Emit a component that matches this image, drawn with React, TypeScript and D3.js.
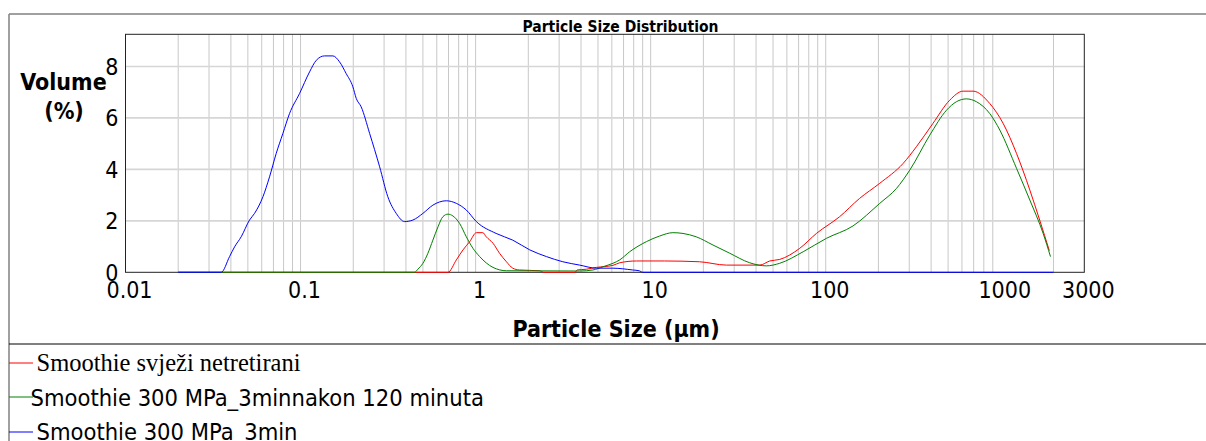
import React from "react";
import * as d3 from "d3";

const W = 1206;
const H = 441;

const chartTitle = "Particle Size Distribution";
const xTitle = "Particle Size (µm)";
const yTitleLines = ["Volume", "(%)"];
const xTickValues = [0.01, 0.1, 1, 10, 100, 1000, 3000];
const xTickLabels = ["0.01", "0.1", "1", "10", "100", "1000", "3000"];
const yTickValues = [0, 2, 4, 6, 8];

const seriesNames = [
  "Smoothie svježi netretirani",
  "Smoothie 300 MPa_3minnakon 120 minuta",
  "Smoothie 300 MPa_3min",
];
const seriesColors = ["#ff0000", "#008000", "#0000ff"];

// red: Smoothie svježi netretirani
const redSize = [0.02, 0.695, 0.776, 0.847, 0.925, 1.01, 1.1, 1.15, 1.257, 1.37, 1.5, 1.63, 1.78, 2.32, 2.45, 3.7, 3.8, 4.29, 4.9, 6.09, 6.66, 8.28, 12, 19, 27.1, 42, 47.9, 54.6, 71, 88.5, 120, 156, 203.6, 276.7, 329.7, 410, 511, 609, 695, 865, 1031, 1230, 1465, 1668, 1894];
const redVal = [0, 0, 0.48, 0.87, 1.19, 1.54, 1.54, 1.38, 1.13, 0.74, 0.41, 0.16, 0.09, 0.06, 0, 0, 0.09, 0.12, 0.19, 0.27, 0.37, 0.44, 0.44, 0.41, 0.28, 0.28, 0.44, 0.5, 0.93, 1.51, 2.16, 2.87, 3.46, 4.23, 4.88, 5.79, 6.69, 7.04, 7.04, 6.56, 5.79, 4.62, 3.2, 2.03, 0.84];

// green: Smoothie 300 MPa_3minnakon 120 minuta
const greenSize = [0.02, 0.448, 0.468, 0.5, 0.534, 0.57, 0.61, 0.65, 0.695, 0.742, 0.81, 0.885, 0.966, 1.055, 1.257, 1.5, 3.93, 4.68, 5.36, 6.09, 6.65, 7.59, 9.45, 11.25, 13.4, 15.3, 18.2, 22.7, 28.3, 36.8, 45.8, 54.6, 74.4, 100.9, 143, 203.6, 253.6, 302, 392.9, 489.8, 558, 636.8, 726, 865, 987, 1230, 1465, 1746, 1923];
const greenVal = [0, 0, 0.12, 0.35, 0.74, 1.25, 1.77, 2.16, 2.26, 2.19, 1.9, 1.38, 0.93, 0.61, 0.19, 0.06, 0.05, 0.09, 0.22, 0.35, 0.48, 0.8, 1.19, 1.41, 1.54, 1.51, 1.38, 1.06, 0.74, 0.37, 0.25, 0.35, 0.8, 1.32, 1.8, 2.68, 3.26, 3.97, 5.33, 6.3, 6.63, 6.74, 6.63, 6.17, 5.53, 4.04, 2.81, 1.51, 0.61];

// blue: Smoothie 300 MPa_3min
const blueSize = [0.02, 0.0352, 0.0393, 0.042, 0.0458, 0.0511, 0.0546, 0.061, 0.0665, 0.0726, 0.0793, 0.0865, 0.0987, 0.1126, 0.123, 0.137, 0.153, 0.167, 0.182, 0.199, 0.208, 0.222, 0.248, 0.283, 0.315, 0.352, 0.393, 0.438, 0.5, 0.57, 0.68, 0.776, 0.885, 1.01, 1.31, 1.63, 2.04, 2.54, 3.15, 3.93, 4.9, 6.09, 7.9, 8.6, 9.0, 2000];
const blueVal = [0, 0, 0.61, 0.99, 1.38, 2.03, 2.29, 2.94, 3.71, 4.62, 5.4, 6.17, 6.95, 7.79, 8.24, 8.41, 8.41, 8.18, 7.73, 7.21, 6.76, 6.43, 5.4, 4.1, 2.94, 2.29, 1.97, 2.03, 2.29, 2.61, 2.78, 2.68, 2.42, 1.97, 1.51, 1.25, 0.87, 0.61, 0.41, 0.28, 0.16, 0.16, 0.09, 0.06, 0, 0];

const seriesSizes = [redSize, greenSize, blueSize];
const seriesVals = [redVal, greenVal, blueVal];

const plotL = 125.5;
const plotR = 1084.3;
const plotT = 34.3;
const plotB = 272.3;

const sansC = "'DejaVu Sans Condensed', 'DejaVu Sans', sans-serif";

export default function App() {
  const x = d3.scaleLog().domain([0.01, 3000]).range([plotL, plotR]);
  const y = d3.scaleLinear().domain([0, 9.25]).range([plotB, plotT]);

  const vGrid: number[] = [];
  for (let k = -2; k <= 2; k++) {
    for (let m = 1; m <= 9; m++) {
      const v = m * Math.pow(10, k);
      if (v > 0.0100001) vGrid.push(v);
    }
  }
  vGrid.push(2000);

  const line = d3
    .line<[number, number]>()
    .x((d) => x(d[0]))
    .y((d) => y(d[1]))
    .curve(d3.curveMonotoneX);

  const legendY = [363, 397, 432];
  const legendTextX = [36.5, 30.5, 36.5];
  const legendBase = [370.7, 405.5, 440];

  return (
    <svg
      width={W}
      height={H}
      style={{ position: "absolute", left: 0, top: 0, display: "block", background: "#fff" }}
    >
      <rect x={0} y={0} width={W} height={H} fill="#fff" />
      {/* outer frame */}
      <line x1={9} y1={14} x2={W} y2={14} stroke="#808080" strokeWidth={1.5} />
      <line x1={9} y1={14} x2={9} y2={H} stroke="#808080" strokeWidth={1.5} />
      <line x1={9} y1={344} x2={W} y2={344} stroke="#000" strokeWidth={1} />

      {/* title */}
      <text x={620.5} y={31.5} textAnchor="middle" fontFamily={sansC} fontWeight="bold" fontSize={15.5} fill="#000">
        {chartTitle}
      </text>

      {/* grid */}
      {vGrid.map((v, i) => (
        <line key={"v" + i} x1={x(v)} x2={x(v)} y1={plotT} y2={plotB} stroke="#c8c8c8" strokeWidth={1} />
      ))}
      {yTickValues.filter((v) => v > 0).map((v) => (
        <line key={"h" + v} x1={plotL} x2={plotR} y1={y(v)} y2={y(v)} stroke="#d6d6d6" strokeWidth={1.6} />
      ))}
      <rect x={plotL} y={plotT} width={plotR - plotL} height={plotB - plotT} fill="none" stroke="#222" strokeWidth={1} />

      {/* series */}
      {seriesSizes.map((sz, si) => {
        const pts: [number, number][] = sz.map((s, i) => [s, seriesVals[si][i]]);
        return (
          <path key={"s" + si} d={line(pts) || ""} fill="none" stroke={seriesColors[si]} strokeWidth={1} />
        );
      })}

      {/* y ticks */}
      {yTickValues.map((v) => (
        <text key={"yt" + v} x={118.5} y={y(v)} dy="0.36em" textAnchor="end" fontFamily={sansC} fontSize={23} fill="#000">
          {v}
        </text>
      ))}
      {/* x ticks */}
      {xTickValues.map((v, i) => (
        <text key={"xt" + i} x={x(v) + 4} y={298} textAnchor="middle" fontFamily={sansC} fontSize={23} fill="#000">
          {xTickLabels[i]}
        </text>
      ))}

      {/* y title */}
      <text x={63.5} y={90} textAnchor="middle" fontFamily={sansC} fontWeight="bold" fontSize={23} fill="#000">
        {yTitleLines[0]}
      </text>
      <text x={64} y={119} textAnchor="middle" fontFamily={sansC} fontWeight="bold" fontSize={23} fill="#000">
        {yTitleLines[1]}
      </text>

      {/* x title */}
      <text x={616} y={337} textAnchor="middle" fontFamily={sansC} fontWeight="bold" fontSize={23} fill="#000">
        {xTitle}
      </text>

      {/* legend */}
      {seriesNames.map((n, i) => (
        <g key={"lg" + i}>
          <line x1={9} x2={33} y1={legendY[i]} y2={legendY[i]} stroke={seriesColors[i]} strokeWidth={1} />
          <text
            x={legendTextX[i]}
            y={legendBase[i]}
            fontFamily={i === 0 ? "'Liberation Serif', serif" : sansC}
            fontSize={i === 0 ? 24.5 : 23.5}
            fill="#000"
          >
            {n}
          </text>
        </g>
      ))}
    </svg>
  );
}
